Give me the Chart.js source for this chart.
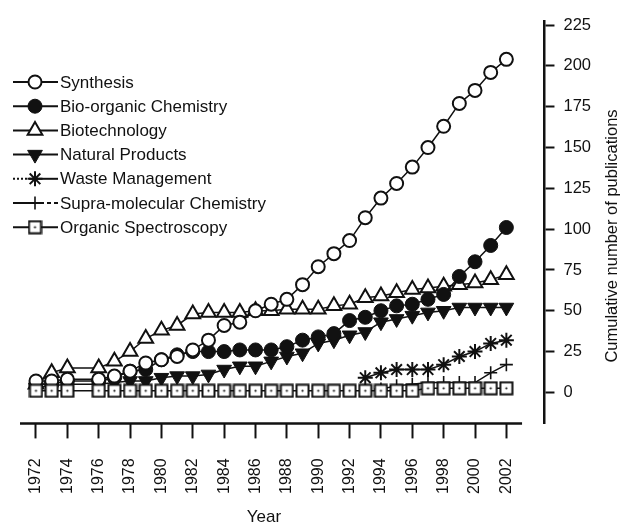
<!DOCTYPE html>
<html><head><meta charset="utf-8">
<script src="https://cdn.jsdelivr.net/npm/chart.js@4.4.0/dist/chart.umd.min.js"></script>
<style>html,body{margin:0;padding:0;background:#fff}#wrap{width:626px;height:525px;position:relative}</style>
</head><body><div id="wrap"><canvas id="c" width="626" height="525"></canvas></div>
<script>
const years = [1972,1973,1974,1976,1977,1978,1979,1980,1981,1982,1983,1984,1985,1986,1987,1988,1989,1990,1991,1992,1993,1994,1995,1996,1997,1998,1999,2000,2001,2002];
const xTickLabels = [1972,1974,1976,1978,1980,1982,1984,1986,1988,1990,1992,1994,1996,1998,2000,2002];
const yTickValues = [0,25,50,75,100,125,150,175,200,225];
const seriesNames = ["Synthesis","Bio-organic Chemistry","Biotechnology","Natural Products","Waste Management","Supra-molecular Chemistry","Organic Spectroscopy"];
const synthesis = [7,7,8,8,10,13,18,20,22,26,32,41,43,50,54,57,66,77,85,93,107,119,128,138,150,163,177,185,196,204];
const bioOrganic = [5,5,7,7,9,13,14,20,23,25,25,25,26,26,26,28,32,34,36,44,46,50,53,54,57,60,71,80,90,101];
const biotechnology = [5,12,15,15,19,25,33,38,41,48,49,49,49,50,50,51,51,51,53,54,58,59,61,63,64,65,66,67,69,72];
const naturalProducts = [3,4,5,5,6,7,7,9,10,10,11,14,16,16,19,22,24,30,32,35,37,43,45,47,49,50,52,52,52,52];
const wasteManagement = [null,null,null,null,null,null,null,null,null,null,null,null,null,null,null,null,null,null,null,null,9,12,14,14,14,17,22,25,30,32];
const supraMolecular = [null,null,null,null,null,null,null,null,null,null,null,null,null,null,null,null,null,null,null,null,null,2,4,5,6,6,6,6,12,17];
const organicSpectroscopy = [1,1,1,1,1,1,1,1,1,1,1,1,1,1,1,1,1,1,1,1,1,1,1,1,2.5,2.5,2.5,2.5,2.5,2.5];

const FONT = "'Liberation Sans', Arial, Helvetica, sans-serif";
const INK = '#111';

// square-with-dot marker
const sq = document.createElement('canvas');
sq.width = 15; sq.height = 15;
(function(){const g = sq.getContext('2d');g.fillStyle='#fff';g.fillRect(1,1,13,13);g.strokeStyle=INK;g.lineWidth=2;g.strokeRect(1.5,1.5,12,12);g.fillStyle=INK;g.beginPath();g.arc(7.5,7.5,1.1,0,Math.PI*2);g.fill();})();

const styles = [
  {pointStyle:'circle', radius:6.5, bg:'#fff', rot:0, bw:2},
  {pointStyle:'circle', radius:7, bg:INK, rot:0, bw:1},
  {pointStyle:'triangle', radius:8.5, bg:'#fff', rot:0, bw:2},
  {pointStyle:'triangle', radius:8.5, bg:INK, rot:180, bw:1},
  {pointStyle:'star', radius:7.5, bg:'#fff', rot:0, bw:2},
  {pointStyle:'cross', radius:6.5, bg:'#fff', rot:0, bw:1.6},
  {pointStyle:sq, radius:7, bg:'#fff', rot:0, bw:2}
];
const allSeries = [synthesis,bioOrganic,biotechnology,naturalProducts,wasteManagement,supraMolecular,organicSpectroscopy];
const orders = [2,3,4,5,6,7,1];

const datasets = allSeries.map((arr,i)=>({
  label: seriesNames[i],
  data: years.map((x,j)=>({x:x,y:arr[j]})),
  borderColor: INK, borderWidth: 1.5,
  pointStyle: styles[i].pointStyle, pointRadius: styles[i].radius,
  pointBackgroundColor: styles[i].bg, pointBorderColor: INK, pointBorderWidth: styles[i].bw,
  pointRotation: styles[i].rot, spanGaps: true, fill:false, tension:0, order: orders[i]
}));

function drawMarker(ctx, i, x, y){
  const s = styles[i];
  ctx.save();
  ctx.strokeStyle = INK; ctx.fillStyle = s.bg; ctx.lineWidth = s.bw;
  if (s.pointStyle === 'circle'){ctx.beginPath();ctx.arc(x,y,s.radius,0,Math.PI*2);ctx.fill();ctx.stroke();}
  else if (s.pointStyle === 'triangle'){
    const r = s.radius, a0 = s.rot*Math.PI/180;
    ctx.beginPath();
    for(let k=0;k<3;k++){const a=a0+k*2*Math.PI/3;const px=x+Math.sin(a)*r, py=y-Math.cos(a)*r; if(k===0)ctx.moveTo(px,py);else ctx.lineTo(px,py);}
    ctx.closePath();ctx.fill();ctx.stroke();
  } else if (s.pointStyle === 'star'){
    const r = s.radius; ctx.beginPath();
    for(let k=0;k<4;k++){const a=k*Math.PI/4;ctx.moveTo(x-Math.cos(a)*r,y-Math.sin(a)*r);ctx.lineTo(x+Math.cos(a)*r,y+Math.sin(a)*r);}
    ctx.stroke();
  } else if (s.pointStyle === 'cross'){
    const r = s.radius; ctx.beginPath();ctx.moveTo(x-r,y);ctx.lineTo(x+r,y);ctx.moveTo(x,y-r);ctx.lineTo(x,y+r);ctx.stroke();
  } else { ctx.drawImage(sq, x-7.5, y-7.5); }
  ctx.restore();
}

const decor = {
  id:'decor',
  afterDraw(chart){
    const ctx = chart.ctx, xs = chart.scales.x;
    ctx.save();
    // x axis line
    ctx.strokeStyle = INK; ctx.lineWidth = 2.5;
    ctx.beginPath(); ctx.moveTo(xs.left, xs.top); ctx.lineTo(xs.getPixelForValue(2003.0), xs.top); ctx.stroke();
    // titles
    ctx.fillStyle = INK; ctx.font = "17px " + FONT; ctx.textAlign='center'; ctx.textBaseline='middle';
    ctx.fillText('Year', 264, 517);
    ctx.save(); ctx.translate(612, 236); ctx.rotate(-Math.PI/2); ctx.font = "16.5px " + FONT; ctx.fillText('Cumulative number of publications', 0, 0); ctx.restore();
    // legend
    ctx.font = "17px " + FONT; ctx.textAlign='left';
    for(let i=0;i<seriesNames.length;i++){
      const y = 82 + i*24.2;
      ctx.lineWidth = 2; ctx.strokeStyle = INK;
      ctx.beginPath();
      if (i===4){ ctx.setLineDash([2,2]); ctx.moveTo(13,y); ctx.lineTo(30,y); ctx.stroke(); ctx.setLineDash([]); ctx.beginPath(); ctx.moveTo(30,y); ctx.lineTo(58,y); ctx.stroke(); }
      else if (i===5){ ctx.moveTo(13,y); ctx.lineTo(40,y); ctx.stroke(); ctx.setLineDash([4,3]); ctx.beginPath(); ctx.moveTo(40,y); ctx.lineTo(58,y); ctx.stroke(); ctx.setLineDash([]); }
      else { ctx.moveTo(13,y); ctx.lineTo(58,y); ctx.stroke(); }
      drawMarker(ctx, i, 35, y);
      ctx.fillStyle = INK;
      ctx.fillText(seriesNames[i], 60, y+1);
    }
    ctx.restore();
  }
};

new Chart(document.getElementById('c'), {
  type:'line',
  data:{datasets:datasets},
  plugins:[decor],
  options:{
    responsive:false, animation:false, devicePixelRatio:1,
    layout:{padding:{left:20, top:21, right:26, bottom:11}},
    plugins:{legend:{display:false}, tooltip:{enabled:false}},
    scales:{
      x:{type:'linear', position:'bottom', min:1970.98, max:2004.43,
        afterBuildTicks:(ax)=>{ax.ticks = xTickLabels.map(v=>({value:v}));},
        ticks:{autoSkip:false, minRotation:90, maxRotation:90, padding:20, color:INK, font:{size:16, family:FONT}, callback:(v)=>String(v)},
        grid:{display:true, drawOnChartArea:false, drawTicks:true, tickLength:15, tickWidth:2, tickColor:INK},
        border:{display:false}},
      y:{type:'linear', position:'right', min:-19, max:227.5,
        afterBuildTicks:(ax)=>{ax.ticks = yTickValues.map(v=>({value:v}));},
        ticks:{padding:9, color:INK, font:{size:16.5, family:FONT}, callback:(v)=>String(v)},
        grid:{display:true, drawOnChartArea:false, drawTicks:true, tickLength:10, tickWidth:2, tickColor:INK},
        border:{display:true, color:INK, width:2.5}}
    }
  }
});
</script></body></html>
